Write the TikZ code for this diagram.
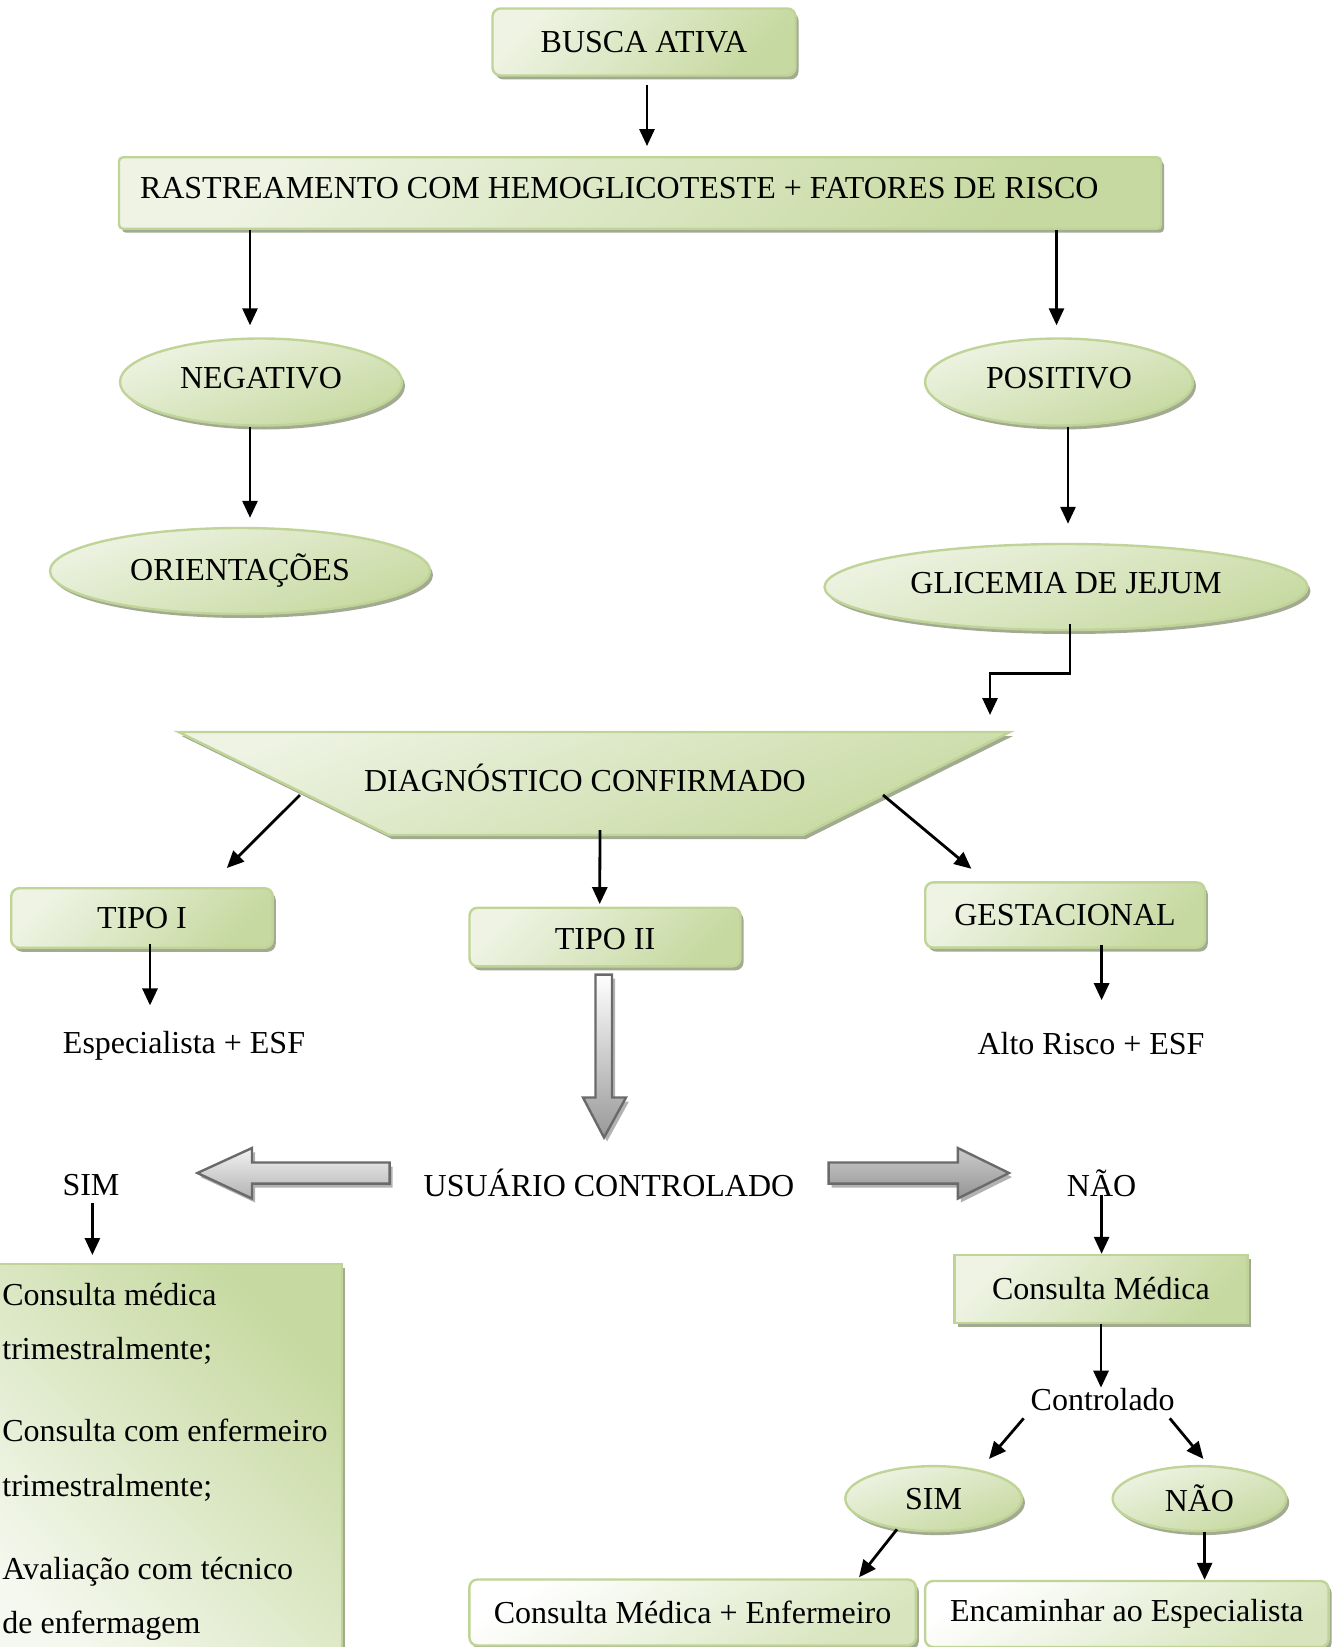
\documentclass[tikz,border=0pt]{standalone}
\usepackage{fontspec}
\setmainfont{Liberation Serif}
\usetikzlibrary{arrows.meta,shadows,shapes.geometric}

\definecolor{gLight}{HTML}{EEF3E3}
\definecolor{gDark}{HTML}{C6D9A0}
\definecolor{gLine}{HTML}{C0D498}
\definecolor{gShadow}{HTML}{A2AA91}
\definecolor{aLine}{HTML}{6A6A6A}

\begin{document}
\begin{tikzpicture}[x=0.5pt,y=-0.5pt]
\tikzstyle{every node}+=[font=\fontsize{16pt}{19pt}\selectfont]
\tikzstyle{greenbox}=[draw=gLine, line width=1.2pt, top color=gLight, bottom color=gDark, shading angle=45, drop shadow={shadow xshift=1.5pt, shadow yshift=-2pt, fill=gShadow, opacity=1}]
\tikzstyle{greenoval}=[greenbox, ellipse, inner sep=2pt, top color=gLight, bottom color=gDark, shading angle=20]
\tikzstyle{whitebox}=[greenbox, rounded corners=4pt, top color=white, bottom color=gDark!70, shading angle=30]
\tikzstyle{listbox}=[greenbox, top color=gDark, bottom color=gLight!60, shading angle=-45]
\tikzstyle{blockarrow}=[draw=aLine, line width=1.2pt, drop shadow={shadow xshift=1.5pt, shadow yshift=-2pt, fill=black!30, opacity=1}]
\tikzstyle{arr}=[-{Triangle[length=8.5pt,width=7.5pt]}, line width=1.4pt, black]
\tikzstyle{listline}=[anchor=base west, inner sep=0pt]
\useasboundingbox (0,0) rectangle (1338,1647);
\clip (0,0) rectangle (1338,1647);

\node[greenbox, rounded corners=4pt, minimum width=151.5pt, minimum height=33.5pt] (busca) at (644,42) {BUSCA ATIVA};
\node[greenbox, rounded corners=2pt, minimum width=521pt, minimum height=35.75pt, inner xsep=10.5pt, text depth=5pt] (rastr) at (640,193) {\makebox[500pt][l]{RASTREAMENTO COM HEMOGLICOTESTE + FATORES DE RISCO}};
\node[greenoval, minimum width=141pt, minimum height=43.5pt, text depth=4pt] (neg) at (261,382) {NEGATIVO};
\node[greenoval, minimum width=134pt, minimum height=43.5pt, text depth=4pt] (pos) at (1059,382) {POSITIVO};
\node[greenoval, minimum width=190pt, minimum height=43pt] (orient) at (240,571) {ORIENTAÇÕES};
\node[greenoval, minimum width=241.5pt, minimum height=43pt, text depth=4pt] (glic) at (1066,587) {GLICEMIA DE JEJUM};

\path[greenbox, shading angle=20] (178.5,732) -- (1010,732) -- (803,835) -- (389,835) -- cycle;
\node (diag) at (585,778) {DIAGNÓSTICO CONFIRMADO};
\coordinate (dtop) at (990,715);
\coordinate (dleft) at (300,795);
\coordinate (dmid) at (600,830);
\coordinate (dright) at (883,795);

\node[greenbox, rounded corners=4pt, minimum width=130.75pt, minimum height=29.75pt] (tipo1) at (142,918) {TIPO I};
\node[greenbox, rounded corners=4pt, minimum width=135.5pt, minimum height=29.3pt, text height=13pt] (tipo2) at (605,937) {TIPO II};
\node[greenbox, rounded corners=4pt, minimum width=139.8pt, minimum height=32.6pt] (gest) at (1065,915) {GESTACIONAL};
\node (esp) at (184,1046) {Especialista + ESF};
\node (alto) at (1091,1044) {Alto Risco + ESF};

\path[blockarrow, top color=white, bottom color=black!40] (595.5,974.6) -- (612,974.6) -- (612,1097.5) -- (626,1097.5) -- (604,1137.5) -- (583,1097.5) -- (595.5,1097.5) -- cycle;
\path[blockarrow, top color=black!5, bottom color=black!30] (389.6,1162.5) -- (252,1162.5) -- (252,1148) -- (197.4,1173) -- (252,1198.5) -- (252,1183.6) -- (389.6,1183.6) -- cycle;
\path[blockarrow, top color=black!20, bottom color=black!42] (828.6,1162.5) -- (957.8,1162.5) -- (957.8,1148) -- (1009,1173) -- (957.8,1198.5) -- (957.8,1183.6) -- (828.6,1183.6) -- cycle;
\node (usuario) at (609,1183) {USUÁRIO CONTROLADO};
\node (sim1) at (91,1185) {SIM};
\node (nao1) at (1101.6,1183) {NÃO};

\node[listbox, anchor=north west, minimum width=175.5pt, minimum height=205pt] (list) at (-10,1263) {};
\node[listline] (l1) at (2,1305) {Consulta médica};
\node[listline] (l2) at (2,1359.5) {trimestralmente;};
\node[listline] (l3) at (2,1441.5) {Consulta com enfermeiro};
\node[listline] (l4) at (2,1496) {trimestralmente;};
\node[listline] (l5) at (2,1579) {Avaliação com técnico};
\node[listline] (l6) at (2,1633.6) {de enfermagem};

\node[greenbox, minimum width=146.5pt, minimum height=34pt] (cmed) at (1101,1289) {Consulta Médica};
\node (ctrl) at (1102.7,1400) {Controlado};
\node[greenoval, minimum width=88.3pt, minimum height=32.5pt] (sim2) at (933.6,1498.6) {SIM};
\node[greenoval, minimum width=86.75pt, minimum height=32.5pt] (nao2) at (1199.4,1498.6) {NÃO};
\node[whitebox, minimum width=223.2pt, minimum height=33pt] (cme) at (692.6,1612.5) {Consulta Médica + Enfermeiro};
\node[whitebox, minimum width=201.75pt, minimum height=33pt] (enc) at (1126.8,1614) {Encaminhar ao Especialista};

\draw[arr, shorten <=4pt, shorten >=5pt] ([xshift=1.5pt]busca.south) -- ([xshift=1.5pt]busca.south |- rastr.north);
\draw[arr, shorten >=6pt] ([xshift=-5.5pt]neg.north |- rastr.south) -- ([xshift=-5.5pt]neg.north);
\draw[arr, shorten >=6pt] ([xshift=-1.25pt]pos.north |- rastr.south) -- ([xshift=-1.25pt]pos.north);
\draw[arr, shorten >=4.5pt] ([xshift=-5.5pt]neg.south) -- ([xshift=-5.5pt]neg.south |- orient.north);
\draw[arr, shorten >=9.5pt] ([xshift=4.5pt]pos.south) -- ([xshift=4.5pt]pos.south |- glic.north);
\draw[arr] ([xshift=2pt,yshift=3.5pt]glic.south) -- ++(0,49) -| (dtop);
\draw[arr] (dleft) -- ([shift={(42.4pt,9.5pt)}]tipo1.north);
\draw[arr] (dmid) -- ([xshift=-2.65pt,yshift=1.2pt]tipo2.north);
\draw[arr] (dright) -- ([shift={(-46.8pt,6.2pt)}]gest.north);
\draw[arr, shorten >=9.5pt] ([xshift=4pt,yshift=2.5pt]tipo1.south) -- ([xshift=4pt]tipo1.south |- esp.north);
\draw[arr, shorten >=12.75pt] ([xshift=18.3pt,yshift=2pt]gest.south) -- ([xshift=18.3pt]gest.south |- alto.north);
\draw[arr, shorten >=4pt] ([xshift=0.7pt]sim1.south) -- ([xshift=0.7pt]sim1.south |- list.north);
\draw[arr] ([yshift=4.5pt]nao1.south) -- (nao1.south |- cmed.north);
\draw[arr, shorten >=-3pt] (cmed.south) -- (cmed.south |- ctrl.north);
\draw[arr] (ctrl.south west) -- ([shift={(27.7pt,3pt)}]sim2.north);
\draw[arr] ([xshift=-6pt]ctrl.south east) -- ([shift={(2pt,3pt)}]nao2.north);
\draw[arr] (sim2.220) -- ([shift={(83.2pt,0.5pt)}]cme.north);
\draw[arr] ([xshift=2.6pt]nao2.south) -- ([xshift=2.6pt]nao2.south |- enc.north);
\end{tikzpicture}
\end{document}
